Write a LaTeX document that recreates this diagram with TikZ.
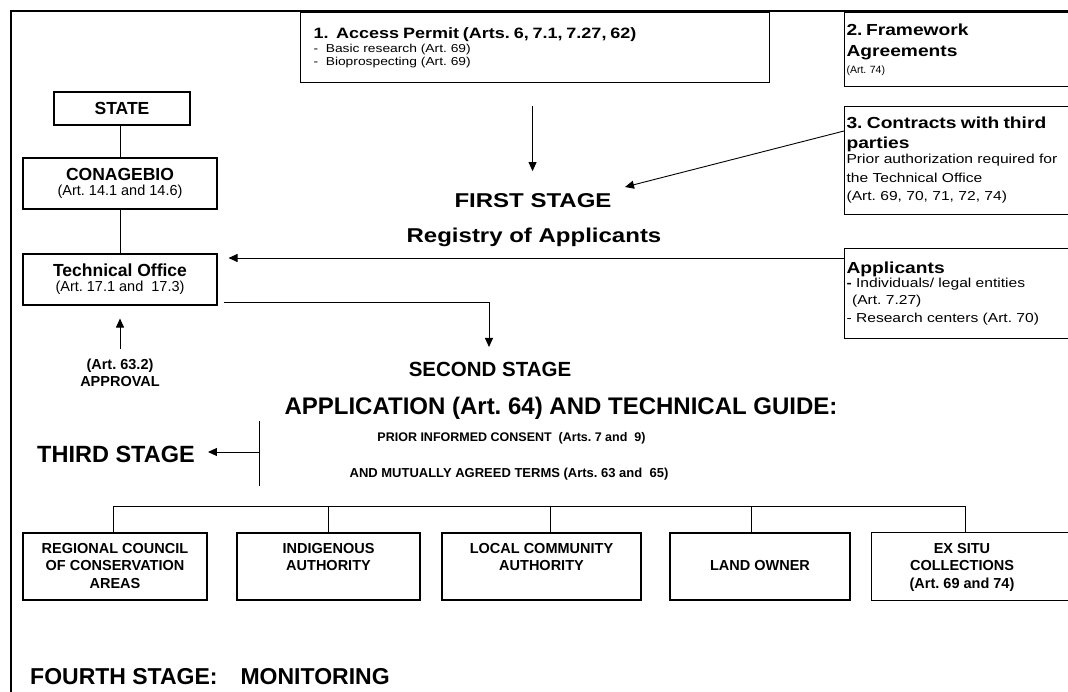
\documentclass[tikz,border=0pt]{standalone}
\usepackage{fontspec}
\setmainfont{Liberation Sans}
\newfontfamily\widefont{Liberation Sans}[FakeStretch=1.2]
\usetikzlibrary{arrows.meta,calc}
\frenchspacing
\newcommand\setfs[2]{\fontsize{#1}{#2}\selectfont}
% fixed-height line strut for the authority boxes
\newcommand\bstrut{\rule[-3pt]{0pt}{14.5pt}}
\tikzset{
  outline/.style={line width=2pt},
  box/.style={draw, line width=1.1pt, inner sep=0pt},
  boxline/.style={line width=1.1pt},
  link/.style={line width=0.9pt},
  arr/.style={link, -{Triangle[length=9pt,width=8pt]}},
  txt/.style={inner sep=0pt, anchor=base},
  rbox/.style={box, align=left, text width=240pt, inner xsep=2pt, anchor=north west},
  lbox/.style={box, align=center, minimum width=194pt, minimum height=51pt},
  bbox/.style={box, align=center, minimum height=67pt, font=\setfs{14.5}{17.5}\bfseries},
}
\begin{document}
\begin{tikzpicture}[x=1pt,y=-1pt]
\useasboundingbox (0,0) rectangle (1068,692);
\clip (0,0) rectangle (1068,692);
\fill[white] (0,0) rectangle (1068,692);

% page frame (top and left rules)
\draw[outline] (11,700) -- (11,11) -- (1080,11);

% ---- upper boxes ----
\node[box, align=left, anchor=north west, text width=443pt, inner xsep=13pt,
      minimum height=70pt, font=\widefont\setfs{11.5}{13}] (access) at (300,12)
  {{\setfs{15}{13}\bfseries 1.\ \ Access Permit (Arts. 6, 7.1, 7.27, 62)}\\[1pt]
   -\ \ Basic research (Art. 69)\\
   -\ \ Bioprospecting (Art. 69)\\[2pt]};

\node[rbox, minimum height=74pt, font=\setfs{10.5}{17}] (frame2) at (844,12)
  {{\widefont\setfs{16}{17}\bfseries 2. Framework\\[4pt]Agreements}\\(Art. 74)};

\node[rbox, minimum height=108pt, font=\widefont\setfs{13}{18}] (contracts) at (844,106)
  {{\setfs{16}{18}\bfseries 3. Contracts with third\\[1.5pt]parties}\\[-3pt]
   Prior authorization required for\\[1.5pt]
   the Technical Office\\
   (Art. 69, 70, 71, 72, 74)};

\node[rbox, minimum height=90pt, font=\widefont\setfs{13}{17.5}] (applicants) at (844,248)
  {{\setfs{16}{17.5}\bfseries Applicants}\\[-3.5pt]
   \textbf{-} Individuals/ legal entities\\
   \hspace*{5.5pt}(Art. 7.27)\\
   - Research centers (Art. 70)};

% ---- left column ----
\node[box, minimum width=136pt, minimum height=33pt, font=\setfs{17.5}{18}\bfseries] (state) at (122,108.5) {STATE};
\node[lbox, font=\setfs{14.5}{15}] (conag) at (120,183.5)
  {{\setfs{17.5}{15}\bfseries CONAGEBIO}\\(Art. 14.1 and 14.6)};
\node[lbox, font=\setfs{14.5}{15}] (tech) at (120,279.5)
  {{\setfs{17.5}{15}\bfseries Technical Office}\\(Art. 17.1 and\ \ 17.3)};
\node[inner sep=0pt, align=center, font=\setfs{14.5}{17.7}\bfseries] (appr) at (120,372.8)
  {(Art. 63.2)\\APPROVAL};

\draw[link] (conag.north) -- (conag.north |- state.south);
\draw[link] (tech.north) -- (conag.south);
\draw[arr, shorten <=9pt, shorten >=13pt] (appr.north) -- (tech.south);

% ---- stage headings ----
\node[txt, font=\widefont\setfs{20}{24}\bfseries] (first) at (533,208) {FIRST STAGE};
\node[txt, font=\widefont\setfs{20}{24}\bfseries] (reg) at (534,243) {Registry of Applicants};
\node[txt, font=\setfs{20.5}{24}\bfseries] (second) at (490,376.7) {SECOND STAGE};
\node[txt, font=\setfs{24}{26}\bfseries] (appl) at (561,414) {APPLICATION (Art. 64) AND TECHNICAL GUIDE:};
\node[txt, font=\setfs{12.5}{15}\bfseries] (pic) at (511.5,441) {PRIOR INFORMED CONSENT\ \ (Arts. 7 and\ \ 9)};
\node[txt, font=\setfs{13}{15}\bfseries] (mat) at (509,477.5) {AND MUTUALLY AGREED TERMS (Arts. 63 and\ \ 65)};
\node[txt, font=\setfs{23.5}{26}\bfseries] (third) at (116,462) {THIRD STAGE};
\node[txt, anchor=base west, font=\setfs{23}{26}\bfseries] (fourth) at (30,684) {FOURTH STAGE:\hspace{23pt}MONITORING};

% ---- connectors of the first and second stage ----
\coordinate (fsin) at (625,187);
\coordinate (s2in) at (489,347);
\draw[arr] ([xshift=-2.5pt,yshift=-23pt]access.south) -- ([xshift=-2.5pt,yshift=-88pt]access.south);
\draw[arr] ([yshift=-25pt]contracts.north west) -- (fsin);
\draw[arr, shorten >=11pt] ([yshift=-10pt]applicants.north west) -- ([yshift=-10pt]applicants.north west -| tech.east);
\draw[arr] ([xshift=6pt,yshift=3pt]tech.south east) -| (s2in);

% ---- third stage bracket ----
\coordinate (bt) at (259,421);
\coordinate (bb) at (259,486);
\coordinate (bm) at (259,452);
\draw[link] (bt) -- (bb);
\draw[arr, shorten >=13pt] (bm) -- (bm -| third.east);

% ---- consent authorities ----
\node[bbox, minimum width=184pt] (b1) at (115,566.5) {\bstrut REGIONAL COUNCIL\\\bstrut OF CONSERVATION\\\bstrut AREAS};
\node[bbox, minimum width=183pt] (b2) at (328.5,566.5) {\bstrut INDIGENOUS\\\bstrut AUTHORITY\\\bstrut};
\node[bbox, minimum width=199pt] (b3) at (541.5,566.5) {\bstrut LOCAL COMMUNITY\\\bstrut AUTHORITY\\\bstrut};
\node[bbox, minimum width=180pt] (b4) at (760,566.5) {\bstrut\\\bstrut LAND OWNER\\\bstrut};
\node[bbox, draw=none, minimum width=180pt] (b5) at (962,566.5) {\bstrut EX SITU\\\bstrut COLLECTIONS\\\bstrut (Art. 69 and 74)};
\draw[boxline] (b5.north west) rectangle ([xshift=40pt]b5.south east);

\coordinate (bus) at (0,506);
\draw[link] ([xshift=-2pt]b1.north) |- ([xshift=3pt]b5.north |- bus) -- ([xshift=3pt]b5.north);
\draw[link] (b2.north) -- (b2.north |- bus);
\draw[link] ([xshift=8.5pt]b3.north) -- ([xshift=8.5pt]b3.north |- bus);
\draw[link] ([xshift=-9pt]b4.north) -- ([xshift=-9pt]b4.north |- bus);
\end{tikzpicture}
\end{document}
